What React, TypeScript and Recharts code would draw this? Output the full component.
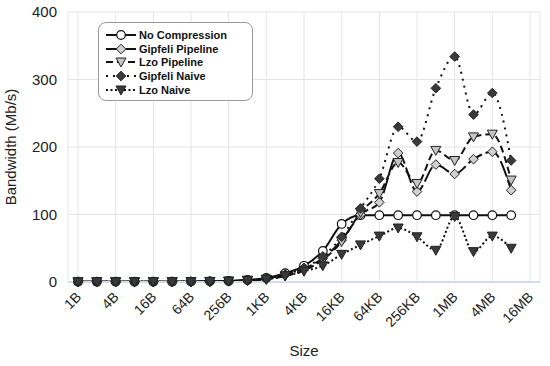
import React from "react";
import {
  LineChart,
  Line,
  XAxis,
  YAxis,
  CartesianGrid,
} from "recharts";

const sizes = [
  "1B", "2B", "4B", "8B", "16B", "32B", "64B", "128B", "256B", "512B",
  "1KB", "2KB", "4KB", "8KB", "16KB", "32KB", "64KB", "128KB", "256KB", "512KB",
  "1MB", "2MB", "4MB", "8MB", "16MB",
];

const noCompression = [0.5, 0.5, 0.5, 0.5, 0.5, 0.5, 0.6, 1, 1.5, 3, 6, 13, 24, 46, 86, 99, 99, 99, 99, 99, 99, 99, 99, 99, null];
const gipfeliPipeline = [0.3, 0.3, 0.3, 0.3, 0.3, 0.4, 0.5, 0.8, 1.3, 2.5, 5, 11, 20, 35, 62, 100, 118, 191, 134, 174, 160, 182, 193, 136, null];
const lzoPipeline = [0.3, 0.3, 0.3, 0.3, 0.3, 0.4, 0.5, 0.8, 1.3, 2.5, 4, 9, 17, 33, 60, 103, 131, 177, 146, 195, 180, 215, 219, 151, null];
const gipfeliNaive = [0.3, 0.3, 0.3, 0.3, 0.3, 0.4, 0.5, 0.8, 1.3, 2.5, 5, 11, 21, 38, 67, 109, 153, 230, 208, 287, 334, 248, 280, 180, null];
const lzoNaive = [0.3, 0.3, 0.3, 0.3, 0.3, 0.4, 0.5, 0.8, 1.3, 2.5, 4, 9, 16, 24, 41, 55, 68, 80, 67, 47, 97, 45, 68, 50, null];

const yTicks = [0, 100, 200, 300, 400];

const data = sizes.map((s, i) => ({
  size: s,
  noComp: noCompression[i],
  gipPipe: gipfeliPipeline[i],
  lzoPipe: lzoPipeline[i],
  gipNaive: gipfeliNaive[i],
  lzoNaive: lzoNaive[i],
}));

const series = [
  { key: "noComp", name: "No Compression", dash: undefined, shape: "circle", fill: "#fff" },
  { key: "gipPipe", name: "Gipfeli Pipeline", dash: "16 4", shape: "diamond", fill: "#d0d0d0" },
  { key: "lzoPipe", name: "Lzo Pipeline", dash: "7 4", shape: "tri", fill: "#c4c4c4" },
  { key: "gipNaive", name: "Gipfeli Naive", dash: "2 5", shape: "diamond", fill: "#3a3a3a" },
  { key: "lzoNaive", name: "Lzo Naive", dash: "2 2.5", shape: "tri", fill: "#3a3a3a" },
];

const FONT = "'Liberation Sans', Arial, sans-serif";

function Marker({ shape, fill, cx, cy }: any) {
  if (shape === "circle")
    return <circle cx={cx} cy={cy} r={4.3} fill={fill} stroke="#111" strokeWidth={1.2} />;
  if (shape === "diamond")
    return (
      <polygon
        points={`${cx},${cy - 4.8} ${cx + 4.8},${cy} ${cx},${cy + 4.8} ${cx - 4.8},${cy}`}
        fill={fill}
        stroke="#222"
        strokeWidth={1}
      />
    );
  return (
    <polygon
      points={`${cx - 5},${cy - 4} ${cx + 5},${cy - 4} ${cx},${cy + 5}`}
      fill={fill}
      stroke="#222"
      strokeWidth={1}
    />
  );
}

const makeDot = (shape: string, fill: string) => (p: any) => {
  if (p.cx == null || p.cy == null || p.value == null) return <g key={`e-${p.index}`} />;
  return <Marker key={`d-${p.index}`} shape={shape} fill={fill} cx={p.cx} cy={p.cy} />;
};

const XTick = ({ x, y, payload }: any) => (
  <text
    x={x + 4}
    y={y + 8}
    textAnchor="end"
    fontSize={14}
    fontFamily={FONT}
    fill="#222"
    transform={`rotate(-45, ${x + 4}, ${y + 8})`}
  >
    {payload.value}
  </text>
);

const LegendBox = () => (
  <div
    style={{
      position: "absolute",
      left: 98,
      top: 22,
      border: "1px solid #999",
      borderRadius: 8,
      background: "#fff",
      width: 155,
      height: 79,
      padding: "5px 0 0 6px",
      boxSizing: "border-box",
      fontFamily: FONT,
      fontWeight: "bold",
      fontSize: 11,
      color: "#111",
    }}
  >
    {series.map((s) => (
      <div key={s.key} style={{ display: "flex", alignItems: "center", height: 13.7 }}>
        <svg width={32} height={12} style={{ marginRight: 2 }}>
          <line x1={1} y1={6} x2={31} y2={6} stroke="#111" strokeWidth={2} strokeDasharray={s.dash} />
          <Marker shape={s.shape} fill={s.fill} cx={16} cy={6} />
        </svg>
        <span>{s.name}</span>
      </div>
    ))}
  </div>
);

export default function App() {
  return (
    <div style={{ position: "absolute", left: 0, top: 0, width: 550, height: 366, background: "#fff" }}>
      <LineChart
        width={550}
        height={366}
        data={data}
        margin={{ top: 12, right: 10, left: 18, bottom: 24 }}
      >
        <CartesianGrid stroke="#e4e4e4" strokeWidth={1} />
        <XAxis
          dataKey="size"
          interval={1}
          padding={{ left: 10, right: 10 }}
          axisLine={{ stroke: "#d4dcec", strokeWidth: 2 }}
          tickLine={false}
          tick={<XTick />}
          height={60}
          label={{ value: "Size", position: "insideBottom", offset: -14, fontSize: 15, fontFamily: FONT, fill: "#222" }}
        />
        <YAxis
          domain={[0, 400]}
          ticks={yTicks}
          width={50}
          axisLine={false}
          tickLine={false}
          tick={{ fontSize: 15, fontFamily: FONT, fill: "#222", dx: -3 }}
          label={{
            value: "Bandwidth (Mb/s)",
            angle: -90,
            position: "insideLeft",
            offset: -7,
            style: { textAnchor: "middle", fontSize: 15, fontFamily: FONT, fill: "#222" },
          }}
        />
        {series.map((s) => (
          <Line
            key={s.key}
            dataKey={s.key}
            name={s.name}
            type="monotone"
            stroke="#111"
            strokeWidth={2}
            strokeDasharray={s.dash}
            dot={makeDot(s.shape, s.fill)}
            activeDot={false}
            connectNulls={false}
            isAnimationActive={false}
          />
        ))}
      </LineChart>
      <LegendBox />
    </div>
  );
}
